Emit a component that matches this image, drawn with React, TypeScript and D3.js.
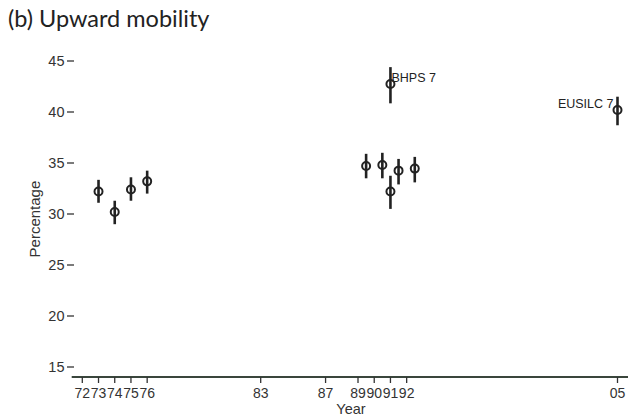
import React, { useEffect, useRef } from 'react';
import * as d3 from 'd3';

// survey year (years since 1900), estimate and 95% interval
const years = [73, 74, 75, 76, 89.5, 90.5, 91, 91, 91.5, 92.5, 105];
const estimates = [32.2, 30.2, 32.4, 33.2, 34.7, 34.8, 32.2, 42.75, 34.25, 34.45, 40.2];
const lower = [31.1, 29.0, 31.3, 32.0, 33.5, 33.5, 30.5, 40.85, 32.9, 33.1, 38.7];
const upper = [33.35, 31.3, 33.6, 34.25, 35.9, 36.0, 33.75, 44.4, 35.4, 35.6, 41.5];
const pointLabels = ['', '', '', '', '', '', '', 'BHPS 7', '', '', 'EUSILC 7'];
const labelSide = ['', '', '', '', '', '', '', 'right', '', '', 'left'];

const xTicks = [72, 73, 74, 75, 76, 83, 87, 89, 90, 91, 92, 105];
const yTicks = [15, 20, 25, 30, 35, 40, 45];

const width = 630;
const height = 417;

const App: React.FC = () => {
  const ref = useRef<SVGSVGElement | null>(null);

  useEffect(() => {
    if (!ref.current) return;
    const svg = d3.select(ref.current);
    svg.selectAll('*').remove();

    const x = d3.scaleLinear().domain([72, 105]).range([82.3, 617.5]);
    const y = d3.scaleLinear().domain([15, 45]).range([367, 61]);
    const axisY = 377;
    const ink = '#222';
    const font = 'Liberation Sans, Arial, sans-serif';

    svg.append('text')
      .attr('x', 8)
      .attr('y', 27)
      .attr('font-family', 'Lato, sans-serif')
      .attr('font-size', 23.5)
      .attr('fill', '#222')
      .text('(b) Upward mobility');

    // y ticks (no axis line)
    const yg = svg.append('g');
    yTicks.forEach(t => {
      yg.append('line')
        .attr('x1', 67).attr('x2', 74)
        .attr('y1', y(t)).attr('y2', y(t))
        .attr('stroke', '#333').attr('stroke-width', 1.3);
      yg.append('text')
        .attr('x', 64.5)
        .attr('y', y(t))
        .attr('dy', '0.35em')
        .attr('text-anchor', 'end')
        .attr('font-family', font)
        .attr('font-size', 14.5)
        .attr('fill', '#333')
        .text(t);
    });

    svg.append('text')
      .attr('transform', `translate(40,${y(29.5)}) rotate(-90)`)
      .attr('text-anchor', 'middle')
      .attr('font-family', font)
      .attr('font-size', 15)
      .attr('fill', '#333')
      .text('Percentage');

    // x axis
    svg.append('line')
      .attr('x1', 71.7).attr('x2', 628)
      .attr('y1', axisY).attr('y2', axisY)
      .attr('stroke', '#3a463c').attr('stroke-width', 2);

    const xg = svg.append('g');
    xTicks.forEach(t => {
      xg.append('line')
        .attr('x1', x(t)).attr('x2', x(t))
        .attr('y1', axisY).attr('y2', axisY + 6)
        .attr('stroke', '#333').attr('stroke-width', 1.3);
      xg.append('text')
        .attr('x', x(t))
        .attr('y', axisY + 20.5)
        .attr('text-anchor', 'middle')
        .attr('font-family', font)
        .attr('font-size', 14)
        .attr('fill', '#333')
        .text(d3.format('02d')(t % 100));
    });

    svg.append('text')
      .attr('x', 351)
      .attr('y', 413.5)
      .attr('text-anchor', 'middle')
      .attr('font-family', font)
      .attr('font-size', 14.5)
      .attr('fill', '#333')
      .text('Year');

    const idx = d3.range(years.length);

    svg.append('g')
      .selectAll('line')
      .data(idx)
      .join('line')
        .attr('x1', i => x(years[i]))
        .attr('x2', i => x(years[i]))
        .attr('y1', i => y(lower[i]))
        .attr('y2', i => y(upper[i]))
        .attr('stroke', ink)
        .attr('stroke-width', 2.6);

    svg.append('g')
      .selectAll('circle')
      .data(idx)
      .join('circle')
        .attr('cx', i => x(years[i]))
        .attr('cy', i => y(estimates[i]))
        .attr('r', 4)
        .attr('fill', 'none')
        .attr('stroke', ink)
        .attr('stroke-width', 2);

    svg.append('g')
      .selectAll('text')
      .data(idx.filter(i => pointLabels[i]))
      .join('text')
        .attr('x', i => x(years[i]) + (labelSide[i] === 'right' ? 1 : -4))
        .attr('y', i => y(estimates[i]) - 6)
        .attr('dy', '0.35em')
        .attr('text-anchor', i => (labelSide[i] === 'right' ? 'start' : 'end'))
        .attr('font-family', font)
        .attr('font-size', 12.5)
        .attr('fill', '#222')
        .text(i => pointLabels[i]);
  }, []);

  return <svg ref={ref} width={width} height={height} style={{ position: 'absolute', left: 0, top: 0 }} />;
};

export default App;
